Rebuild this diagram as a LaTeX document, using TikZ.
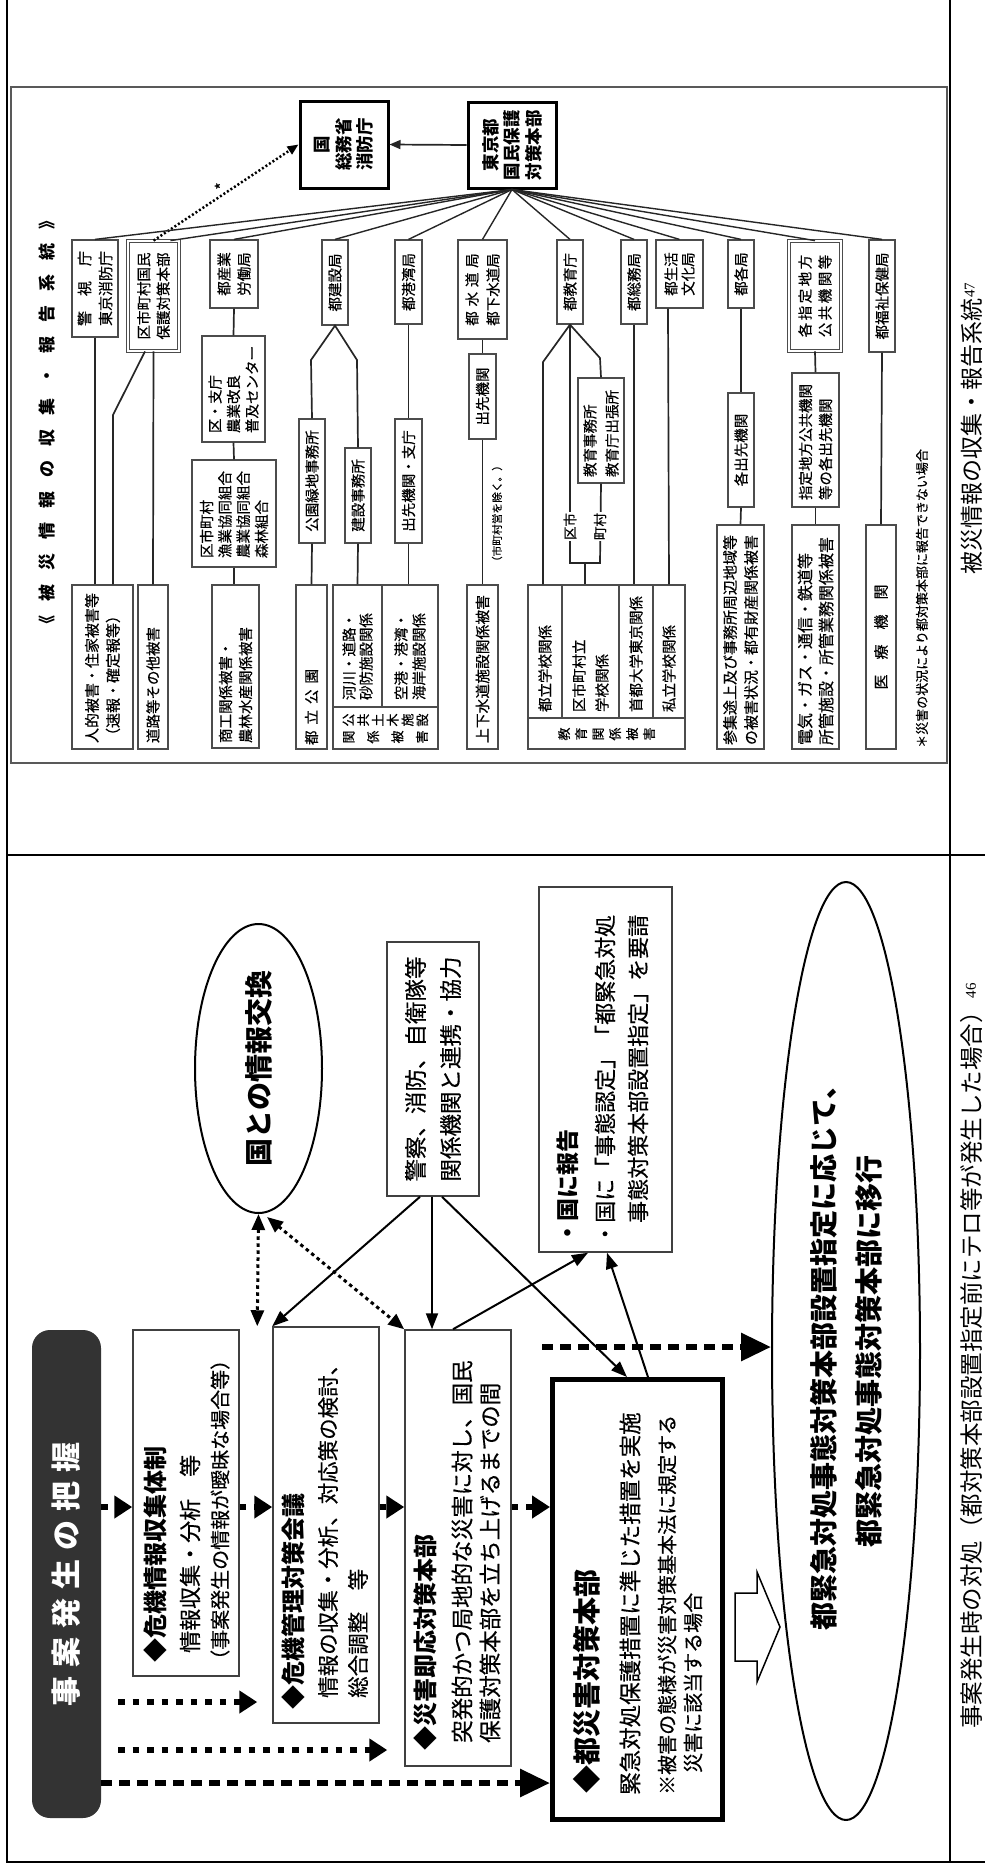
\documentclass[tikz,border=0pt]{standalone}
\usepackage{fontspec}
\setmainfont{Noto Sans CJK JP}[UprightFeatures={FakeBold=0.4}]
\newfontfamily\capfont{Noto Sans CJK JP}
\newfontfamily\libser{Liberation Serif}
\usetikzlibrary{shapes.geometric,arrows.meta,calc}
\newcommand\myfs[2]{\fontsize{#1pt}{#2pt}\selectfont}
\definecolor{darkbox}{RGB}{51,51,51}
\begin{document}
\begin{tikzpicture}[x=1pt,y=1pt,
  bx/.style={draw=black!70, line width=1.2pt, inner sep=0pt, font=\myfs{14.5}{17}},
  dbx/.style={bx, double, double distance=2pt, line width=0.8pt},
  hb/.style={draw=black, line width=3pt, inner sep=0pt, align=center, font={\myfs{17.5}{21.5}\bfseries}},
  ln/.style={black!85, line width=1.7pt},
  fanln/.style={black!85, line width=1.4pt},
  fb/.style={draw=black!75, line width=1.5pt, inner sep=0pt},
  tx/.style={anchor=west, inner sep=0pt},
  sarrow/.style={black, line width=2pt, -{Triangle[length=16pt,width=12pt]}},
  bigdot/.style={black, line width=5.5pt, dash pattern=on 6.5pt off 8pt, -{Triangle[length=18pt,width=22pt]}},
  bigdash/.style={black, line width=6pt, dash pattern=on 11pt off 7pt, -{Triangle[length=30pt,width=27pt]}},
  dd/.style={black, line width=3pt, dash pattern=on 3.5pt off 3.5pt, {Triangle[length=16pt,width=13pt]}-{Triangle[length=16pt,width=13pt]}},
  tbl/.style={black, line width=2.5pt}
]
\useasboundingbox (0,0) rectangle (985,-1866);
\begin{scope}[rotate=90, transform shape]
% ---------- table ----------
\draw[tbl] (0,-7) -- (-1862,-7) -- (-1862,-985);
\draw[tbl] (0,-950) -- (-1862,-950);
\draw[tbl] (-855,-7) -- (-855,-985);
% ---------- captions ----------
\node[tx, font={\capfont\myfs{23.5}{24}}] at (-1729,-972) {事案発生時の対処（都対策本部設置指定前にテロ等が発生した場合）\kern2pt\raisebox{5pt}{\libser\myfs{15}{15}46}};
\node[tx, font={\capfont\myfs{23}{24}}] at (-575,-972) {被災情報の収集・報告系統\kern1pt\raisebox{6pt}{\libser\myfs{15}{15}47}};

% =============== upper panel ===============
\draw[black!65, line width=2.5pt] (-87,-11) rectangle (-763,-947);
\node[inner sep=0pt, font={\myfs{17}{17}\bfseries}] at (-422,-47) {《\kern14pt 被\kern14pt 災\kern14pt 情\kern14pt 報\kern14pt の\kern14pt 収\kern14pt 集\kern14pt ・\kern14pt 報\kern14pt 告\kern14pt 系\kern14pt 統\kern14pt 》};

\node[hb, minimum width=87pt, minimum height=88pt] (kuni) at (-144.5,-344) {国\\総務省\\消防庁};
\node[hb, minimum width=86pt, minimum height=88pt] (tokyo) at (-145,-512) {東京都\\国民保護\\対策本部};

\node[bx, minimum width=97pt, minimum height=46pt, align=center, font=\myfs{15}{21}] (keishi) at (-288.5,-95) {警　視　庁\\東京消防庁};
\node[dbx, minimum width=110pt, minimum height=51pt, align=center, font=\myfs{14.5}{19.5}] (kushi) at (-296,-153.5) {区市町村国民\\保護対策本部};
\node[bx, minimum width=68pt, minimum height=48pt, align=center, font=\myfs{14.5}{20}] (sangyo) at (-274,-234) {都産業\\労働局};
\node[bx, minimum width=85pt, minimum height=26pt] (kensetsu) at (-282.5,-335) {都建設局};
\node[bx, minimum width=84pt, minimum height=27pt] (kowan) at (-282,-408.5) {都港湾局};
\node[bx, minimum width=99pt, minimum height=49pt, align=center, font=\myfs{14.5}{21}] (suido) at (-289.5,-482.5) {都\kern.333em 水\kern.333em 道\kern.333em 局\\都下水道局};
\node[bx, minimum width=84pt, minimum height=26pt] (kyoiku) at (-282,-570) {都教育庁};
\node[bx, minimum width=84pt, minimum height=26pt] (somu) at (-282,-634) {都総務局};
\node[bx, minimum width=68pt, minimum height=47pt, align=center, font=\myfs{14.5}{17}] (seikatsu) at (-274,-679.5) {都生活\\文化局};
\node[bx, minimum width=68pt, minimum height=26pt] (kakkyoku) at (-274,-741) {都各局};
\node[dbx, minimum width=110pt, minimum height=52pt, align=center, font=\myfs{14.5}{20}] (shitei) at (-296,-815) {各\kern2.5pt 指\kern2.5pt 定\kern2.5pt 地\kern2.5pt 方\\公\kern2.5pt 共\kern2.5pt 機\kern2.5pt 関\kern2.5pt 等};
\node[bx, minimum width=112pt, minimum height=26pt] (fukushi) at (-296,-882) {都福祉保健局};

\node[bx, minimum width=106pt, minimum height=63pt, text width=88pt, align=left, font=\myfs{14.5}{18.5}] (kuchou) at (-389,-233.5) {区・支庁\\農業改良\\普及センター};
\node[bx, minimum width=107pt, minimum height=84pt, text width=89pt, align=left, font=\myfs{14.5}{18.3}] (kumiai) at (-513.5,-234) {区市町村\\漁業協同組合\\農業協同組合\\森林組合};
\node[bx, minimum width=124pt, minimum height=26pt] (koenjimu) at (-481,-312) {公園緑地事務所};
\node[bx, minimum width=95pt, minimum height=26pt] (kenjimu) at (-495.5,-358) {建設事務所};
\node[bx, minimum width=124pt, minimum height=27pt] (dekishi) at (-481,-408.5) {出先機関・支庁};
\node[bx, minimum width=85pt, minimum height=27pt] (dekisaki) at (-396.5,-482.5) {出先機関};
\node[bx, minimum width=105pt, minimum height=46pt, text width=93pt, align=left, font=\myfs{14.5}{22}] (kyojimu) at (-430.5,-601) {教育事務所\\教育庁出張所};
\node[bx, minimum width=114pt, minimum height=26pt] (kakude) at (-450,-741) {各出先機関};
\node[bx, minimum width=134pt, minimum height=47pt, text width=120pt, align=left, font=\myfs{14.5}{20}] (shitede) at (-440,-815.5) {指定地方公共機関\\等の各出先機関};

\node[bx, minimum width=164pt, minimum height=61pt, text width=152pt, align=left, font=\myfs{15}{21}] (jinteki) at (-667,-102.5) {人的被害・住家被害等\\（速報・確定報等）};
\node[bx, minimum width=164pt, minimum height=30pt, text width=152pt, align=left] (doro) at (-667,-153) {道路等その他被害};
\node[bx, minimum width=163pt, minimum height=47pt, text width=153pt, align=left, font=\myfs{14.5}{20}] (shoko) at (-666.5,-235.5) {商工関係被害・\\農林水産関係被害};
\node[bx, minimum width=164pt, minimum height=31pt, text width=156pt, align=left] (tkoen) at (-667,-311.5) {都\kern6pt 立\kern6pt 公\kern6pt 園};
\node[bx, minimum width=122pt, minimum height=49pt, text width=108pt, align=left, font=\myfs{14.5}{17}] (kasen) at (-646,-357.5) {河川・道路・\\砂防施設関係};
\node[bx, minimum width=122pt, minimum height=56pt, text width=108pt, align=left, font=\myfs{14.5}{18}] (kuko) at (-646,-410) {空港・港湾・\\海岸施設関係};
\node[bx, minimum width=42pt, minimum height=105pt] (koukyo) at (-728,-385.5) {};
\node[inner sep=0pt, align=center, font=\myfs{13}{14.8}] at (-720,-385.5) {公\\共\\土\\木\\施\\設};
\node[inner sep=0pt, align=center, font=\myfs{13}{24.4}] at (-737,-385.5) {関\\係\\被\\害};
\node[bx, minimum width=164pt, minimum height=31pt, text width=152pt, align=left, font=\myfs{14.8}{17}] (josui) at (-667,-482.5) {上下水道施設関係被害};
\node[bx, minimum width=133pt, minimum height=34pt, text width=121pt, align=left] (tgakko) at (-651.5,-545) {都立学校関係};
\node[bx, minimum width=133pt, minimum height=57pt, text width=121pt, align=left, font=\myfs{14.5}{23}] (kgakko) at (-651.5,-590.5) {区市町村立\\学校関係};
\node[bx, minimum width=133pt, minimum height=34pt, text width=121pt, align=left] (shuto) at (-651.5,-636) {首都大学東京関係};
\node[bx, minimum width=133pt, minimum height=32pt, text width=121pt, align=left] (shiritsu) at (-651.5,-669) {私立学校関係};
\node[bx, minimum width=31pt, minimum height=157pt] (kyostrip) at (-733.5,-606.5) {};
\node[inner sep=0pt, align=center, font=\myfs{13}{17}] at (-734,-606.5) {教\\育\\関\\係\\被\\害};
\node[bx, minimum width=224pt, minimum height=47pt, text width=216pt, align=left, font=\myfs{15}{21}] (sanshu) at (-637,-740.5) {参集途上及び事務所周辺地域等\\の被害状況・都有財産関係被害};
\node[bx, minimum width=224pt, minimum height=47pt, text width=216pt, align=left, font=\myfs{16}{21}] (denki) at (-637,-815.5) {電気・ガス・通信・鉄道等\\所管施設・所管業務関係被害};
\node[bx, minimum width=224pt, minimum height=30pt, font=\myfs{15}{17}] (iryo) at (-637,-881) {医　療　機　関};

% upper connectors
\draw[ln, -{Triangle[length=11pt,width=9pt]}] (tokyo.north) -- (kuni.south);
\draw[black, line width=2.5pt, dash pattern=on 2pt off 2.2pt, -{Triangle[length=11pt,width=9pt]}] (kushi.east) -- (kuni.north);
\node[inner sep=0pt, font=\myfs{16}{16}] at (-186,-221) {*};
\foreach \n in {keishi,sangyo,kensetsu,kowan,suido,kyoiku,somu,seikatsu,kakkyoku,shitei,fukushi}
  {\draw[fanln] (tokyo.west) -- (\n.east);}
\draw[fanln] (tokyo.west) -- ($(kushi.east)+(0,-17)$);

\draw[ln] (keishi.west) -- ($(jinteki.east)+(0,7.5)$);
\draw[ln] (kushi.west) -- (doro.east);
\draw[ln] ($(kushi.west)+(0,8.5)$) -- (-415,-113) -- ($(jinteki.east)+(0,-10.5)$);
\draw[ln] (sangyo.west) -- (kuchou.east);
\draw[ln] (kuchou.west) -- (kumiai.east);
\draw[ln] (kumiai.west) -- ($(shoko.east)+(0,1.5)$);
\draw[ln] (koenjimu.east) -- (-360,-311) -- (kensetsu.west) -- (-360,-357) -- (kenjimu.east);
\draw[ln] (koenjimu.west) -- (tkoen.east);
\draw[ln] (kenjimu.west) -- (kasen.east);
\draw[ln] (kowan.west) -- (dekishi.east);
\draw[ln] (dekishi.west) -- ($(kuko.east)+(0,1.5)$);
\draw[ln] (suido.west) -- (dekisaki.east);
\draw[ln] (dekisaki.west) -- (josui.east);
\draw[ln] (kyoiku.west) -- (-362,-543) -- ($(tgakko.east)+(0,2)$);
\draw[ln] (kyoiku.west) -- (-358,-600) -- (kyojimu.east);
\draw[ln] (kyoiku.west) -- (-563,-570) -- (-563,-600) -- (kyojimu.west);
\draw[ln] (-563,-585) -- ($(kgakko.east)+(0,5.5)$);
\draw[ln] (somu.west) -- ($(shuto.east)+(0,2)$);
\draw[ln] ($(seikatsu.west)+(0,11.5)$) -- (shiritsu.east);
\draw[ln] (kakkyoku.west) -- (kakude.east);
\draw[ln] (kakude.west) -- (sanshu.east);
\draw[ln] (shitei.west) -- (shitede.east);
\draw[ln] (shitede.west) -- (denki.east);
\draw[ln] (fukushi.west) -- (iryo.east);
\node[fill=white, inner sep=1pt, font=\myfs{13.5}{14}] at (-526.5,-570) {区市};
\node[fill=white, inner sep=1pt, font=\myfs{13.5}{14}] at (-526.5,-600) {町村};
\node[inner sep=0pt, font=\myfs{10.7}{12}] at (-513.5,-497) {（市町村営を除く。）};
\node[tx, font=\myfs{13}{14}] at (-748,-922) {＊災害の状況により都対策本部に報告できない場合};

% =============== lower panel ===============
\node[rounded corners=18pt, fill=darkbox, inner sep=0pt, minimum width=488pt, minimum height=69pt, text=white, font={\myfs{30}{30}\bfseries}] (dark) at (-1574,-66.5) {事\kern9pt 案\kern9pt 発\kern9pt 生\kern9pt の\kern9pt 把\kern9pt 握};
\node[fb, minimum width=346pt, minimum height=106pt] (box1) at (-1503,-186) {};
\node[fb, minimum width=396pt, minimum height=106pt] (box2) at (-1525,-326) {};
\node[fb, minimum width=436pt, minimum height=106pt] (box3) at (-1548,-458) {};
\node[fb, minimum width=365pt, minimum height=133pt] (report) at (-1069.5,-605.5) {};
\node[draw=black, line width=5pt, inner sep=0pt, minimum width=440pt, minimum height=170pt] (thick) at (-1599.5,-637.5) {};
\node[fb, minimum width=254pt, minimum height=92pt, align=left, font=\myfs{22.5}{35}] (police) at (-1069,-433) {警察、消防、自衛隊等\\関係機関と連携・協力};
\node[ellipse, draw=black, line width=2pt, inner sep=0pt, minimum width=289pt, minimum height=127pt, font={\myfs{28}{28}\bfseries}] (smell) at (-1068.5,-258.5) {国との情報交換};
\node[ellipse, draw=black, line width=2pt, inner sep=0pt, minimum width=938pt, minimum height=148pt, align=center, font={\myfs{28}{45}\bfseries}] (bigell) at (-1351,-846) {都緊急対処事態対策本部設置指定に応じて、\\都緊急対処事態対策本部に移行};

\node[tx, font={\myfs{24}{24}\bfseries}] at (-1663,-155) {◆危機情報収集体制};
\node[tx, font=\myfs{22}{22}] at (-1653,-190) {情報収集・分析　等};
\node[tx, font=\myfs{20}{20}] at (-1670,-220) {（事案発生の情報が曖昧な場合等）};
\node[tx, font={\myfs{24}{24}\bfseries}] at (-1710,-293) {◆危機管理対策会議};
\node[tx, font=\myfs{21.5}{22}] at (-1698,-328) {情報の収集・分析、対応策の検討、};
\node[tx, font=\myfs{21.5}{22}] at (-1698,-358) {総合調整　等};
\node[tx, font={\myfs{24}{24}\bfseries}] at (-1751,-425) {◆災害即応対策本部};
\node[tx, font=\myfs{22.5}{23}] at (-1743,-462) {突発的かつ局地的な災害に対し、国民};
\node[tx, font=\myfs{22.5}{23}] at (-1743,-490) {保護対策本部を立ち上げるまでの間};
\node[tx, font={\myfs{23}{23}\bfseries}] at (-1245,-568) {・国に報告};
\node[tx, font=\myfs{22}{22}] at (-1245,-605) {・国に「事態認定」「都緊急対処};
\node[tx, font=\myfs{22}{22}] at (-1223,-638) {事態対策本部設置指定」を要請};
\node[tx, font={\myfs{28}{28}\bfseries}] at (-1794,-587) {◆都災害対策本部};
\node[tx, font=\myfs{22.5}{23}] at (-1795,-630) {緊急対処保護措置に準じた措置を実施};
\node[tx, font=\myfs{20}{20}] at (-1795,-667) {※被害の態様が災害対策基本法に規定する};
\node[tx, font=\myfs{20}{20}] at (-1773,-693) {災害に該当する場合};

% block arrow
\draw[fill=white, line width=1.5pt, line join=miter] (-1593,-735) -- (-1661,-735) -- (-1661,-757) -- (-1682,-757) -- (-1627,-780) -- (-1572,-757) -- (-1593,-757) -- cycle;

% lower connectors
\draw[bigdot] ($(dark.south)+(67,0)$) -- ($(box1.north)+(-4,0)$);
\draw[bigdot] ($(box1.south)+(-4,0)$) -- ($(box2.north)+(18,0)$);
\draw[bigdot] ($(box2.south)+(18,0)$) -- ($(box3.north)+(41,0)$);
\draw[bigdot] ($(box3.south)+(41,0)$) -- ($(thick.north)+(92.5,0)$);
\draw[bigdot, shorten <=17pt, shorten >=15pt] ($(dark.south)+(-128,0)$) -- ($(box2.north)+(-177,0)$);
\draw[bigdot, shorten <=17pt, shorten >=17pt] ($(dark.south)+(-176,0)$) -- ($(box3.north)+(-202,0)$);
\draw[bigdash] ($(dark.south)+(-209,0)$) -- ($(thick.north)+(-183.5,0)$);
\coordinate (trs) at (-1347,-542);
\draw[bigdash] (trs) -- ($(bigell.north)+(4,0)$);

\draw[sarrow] ($(police.west)+(0,13)$) -- (box2.north east);
\draw[sarrow] ($(police.west)+(0,1)$) -- ($(box3.east)+(0,26)$);
\draw[sarrow] ($(police.west)+(0,-9)$) -- ($(thick.east)+(0,10.5)$);
\draw[sarrow] ($(box3.east)+(0,5)$) -- ($(report.west)+(0,17.5)$);
\draw[sarrow] ($(thick.east)+(0,-10.5)$) -- ($(report.west)+(0,-1.5)$);
\draw[dd] (smell.west) -- ($(box2.north east)+(0,15)$);
\draw[dd] ($(smell.west)+(-3,-8.5)$) -- (box3.north east);
\end{scope}
\end{tikzpicture}
\end{document}
